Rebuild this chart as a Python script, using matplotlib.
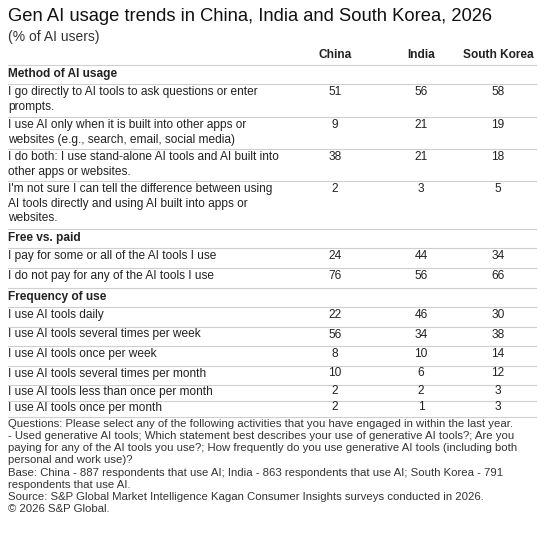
import matplotlib.pyplot as plt
from matplotlib.lines import Line2D

plt.rcParams['font.family'] = ['Liberation Sans', 'DejaVu Sans']

countries = ["China", "India", "South Korea"]

sec1 = "Method of AI usage"
sec1_labels = ["I go directly to AI tools to ask questions or enter\nprompts.",
               "I use AI only when it is built into other apps or\nwebsites (e.g., search, email, social media)",
               "I do both: I use stand-alone AI tools and AI built into\nother apps or websites.",
               "I'm not sure I can tell the difference between using\nAI tools directly and using AI built into apps or\nwebsites."]
sec1_china = [51, 9, 38, 2]
sec1_india = [56, 21, 21, 3]
sec1_korea = [58, 19, 18, 5]

sec2 = "Free vs. paid"
sec2_labels = ["I pay for some or all of the AI tools I use",
               "I do not pay for any of the AI tools I use"]
sec2_china = [24, 76]
sec2_india = [44, 56]
sec2_korea = [34, 66]

sec3 = "Frequency of use"
sec3_labels = ["I use AI tools daily", "I use AI tools several times per week",
               "I use AI tools once per week", "I use AI tools several times per month",
               "I use AI tools less than once per month", "I use AI tools once per month"]
sec3_china = [22, 56, 8, 10, 2, 2]
sec3_india = [46, 34, 10, 6, 2, 1]
sec3_korea = [30, 38, 14, 12, 3, 3]

footnote = ("Questions: Please select any of the following activities that you have engaged in within the last year.\n"
            "- Used generative AI tools; Which statement best describes your use of generative AI tools?; Are you\n"
            "paying for any of the AI tools you use?; How frequently do you use generative AI tools (including both\n"
            "personal and work use)?\n"
            "Base: China - 887 respondents that use AI; India - 863 respondents that use AI; South Korea - 791\n"
            "respondents that use AI.\n"
            "Source: S&P Global Market Intelligence Kagan Consumer Insights surveys conducted in 2026.\n"
            "© 2026 S&P Global.")

W, H = 544, 540
fig = plt.figure(figsize=(W / 100, H / 100), dpi=100)

def tx(x, y, s, **kw):
    kw.setdefault('fontsize', 8.6)
    kw.setdefault('color', '#222222')
    fig.text(x / W, 1 - y / H, s, va='top', **kw)

def hline(y):
    fig.add_artist(Line2D([8 / W, 536 / W], [1 - y / H] * 2, color='#cfcfcf', lw=0.8))

col_x = [335, 421, 498]
tx(8, 8, "Gen AI usage trends in China, India and South Korea, 2026", fontsize=13.2, color='#111111')
tx(8, 30, "(% of AI users)", fontsize=10, color='#333333')
for cx, c in zip(col_x, countries):
    tx(cx, 49, c, ha='center', fontweight='bold')
hline(65)

# row heights in px (section header, then rows)
sections = [(sec1, sec1_labels, sec1_china, sec1_india, sec1_korea, [33, 32, 32, 48]),
            (sec2, sec2_labels, sec2_china, sec2_india, sec2_korea, [20, 20]),
            (sec3, sec3_labels, sec3_china, sec3_india, sec3_korea, [19.5, 19.5, 19.5, 19, 16, 16])]
y = 65
for title, labels, a, b, c, heights in sections:
    tx(8, y + 3, title, fontweight='bold')
    y += 19
    hline(y)
    for lab, v1, v2, v3, h in zip(labels, a, b, c, heights):
        top = y + 2 if h > 17 else y + 1
        tx(8, top, lab, linespacing=1.28)
        for cx, v in zip(col_x, [v1, v2, v3]):
            tx(cx, top, str(v), ha='center')
        y += h
        hline(y)

tx(8, 419, footnote, fontsize=8.2, linespacing=1.27, color='#333333')

fig.savefig("out.png", dpi=100)
